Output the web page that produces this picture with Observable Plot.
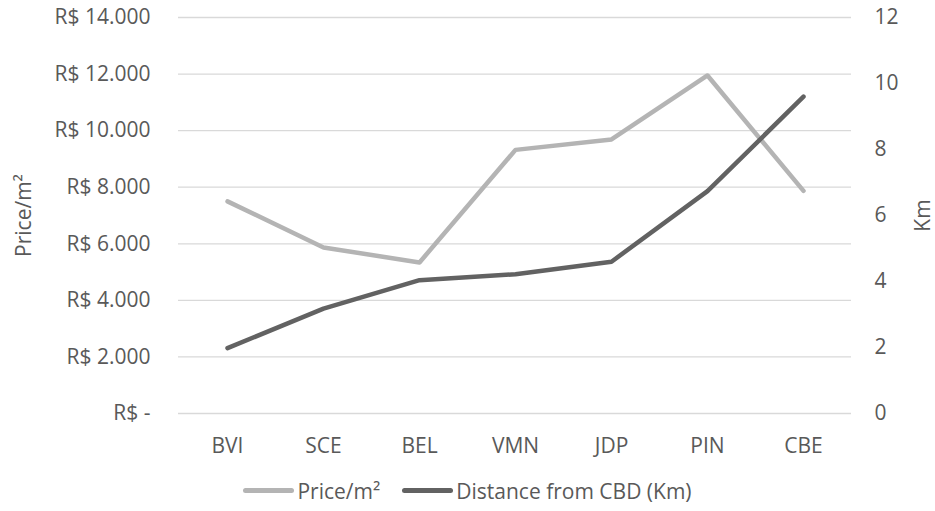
<!DOCTYPE html>
<html>
<head>
<meta charset="utf-8">
<script src="https://cdn.jsdelivr.net/npm/d3@7"></script>
<script src="https://cdn.jsdelivr.net/npm/@observablehq/plot@0.6"></script>
<style>
  html, body { margin: 0; padding: 0; background: #fff; }
  #chart { width: 935px; height: 511px; font-family: "Open Sans", sans-serif; color: #595959; }
  .legend { display: flex; justify-content: center; align-items: center; height: 41px; font-size: 21px; color: #595959; margin-left: 0px; }
  .item { display: flex; align-items: center; margin: 0 11px; }
  .sw { width: 51px; height: 5px; border-radius: 3px; margin-right: 3px; }
</style>
</head>
<body>
<div id="chart"></div>
<script>
const categories = ["BVI", "SCE", "BEL", "VMN", "JDP", "PIN", "CBE"];
const price = [7500, 5870, 5340, 9320, 9690, 11950, 7870];
const distance = [1.98, 3.18, 4.04, 4.22, 4.6, 6.74, 9.6];
const priceTicks = [0, 2000, 4000, 6000, 8000, 10000, 12000, 14000];
const kmTicks = [0, 2, 4, 6, 8, 10, 12];
const seriesNames = ["Price/m²", "Distance from CBD (Km)"];
const seriesColors = ["#b4b4b4", "#626262"];

const f = 14000 / 12;
const data = categories.map((c, i) => ({cat: c, price: price[i], km: distance[i]}));
const fmt = d => d === 0 ? "R$ -" : "R$ " + d3.format(",")(d).replace(/,/g, ".");

const plot = Plot.plot({
  width: 935,
  height: 470,
  marginTop: 17,
  marginBottom: 57,
  marginLeft: 178,
  marginRight: 84,
  style: {fontFamily: "Open Sans, sans-serif", fontSize: "21px", color: "#595959", background: "#fff"},
  x: {type: "point", domain: categories, padding: 0.5},
  y: {domain: [0, 14000]},
  marks: [
    Plot.ruleY(priceTicks, {stroke: "#d9d9d9", strokeWidth: 1.3}),
    Plot.axisX({tickSize: 0, tickPadding: 25, label: null, fill: "#595959", fontSize: 21}),
    Plot.axisY({anchor: "left", ticks: priceTicks, tickSize: 0, tickPadding: 28, tickFormat: fmt, fontSize: 21,
      label: "Price/m²", labelAnchor: "center", labelArrow: "none", labelOffset: 162, fill: "#595959"}),
    Plot.axisY({anchor: "right", ticks: kmTicks.map(k => k * f), tickSize: 0, tickPadding: 23, fontSize: 21,
      textAnchor: "start", tickFormat: v => String(Math.round(v / f)),
      label: "Km", labelAnchor: "center", labelArrow: "none", labelOffset: 78, fill: "#595959"}),
    Plot.line(data, {x: "cat", y: "price", stroke: seriesColors[0], strokeWidth: 4.5, strokeLinecap: "round", strokeLinejoin: "round"}),
    Plot.line(data, {x: "cat", y: d => d.km * f, stroke: seriesColors[1], strokeWidth: 4.5, strokeLinecap: "round", strokeLinejoin: "round"})
  ]
});

const chart = document.getElementById("chart");
chart.appendChild(plot);
const legend = document.createElement("div");
legend.className = "legend";
seriesNames.forEach((n, i) => {
  const it = document.createElement("div");
  it.className = "item";
  const sw = document.createElement("div");
  sw.className = "sw";
  sw.style.background = seriesColors[i];
  const t = document.createElement("span");
  t.textContent = n;
  it.appendChild(sw); it.appendChild(t);
  legend.appendChild(it);
});
chart.appendChild(legend);
</script>
</body>
</html>
